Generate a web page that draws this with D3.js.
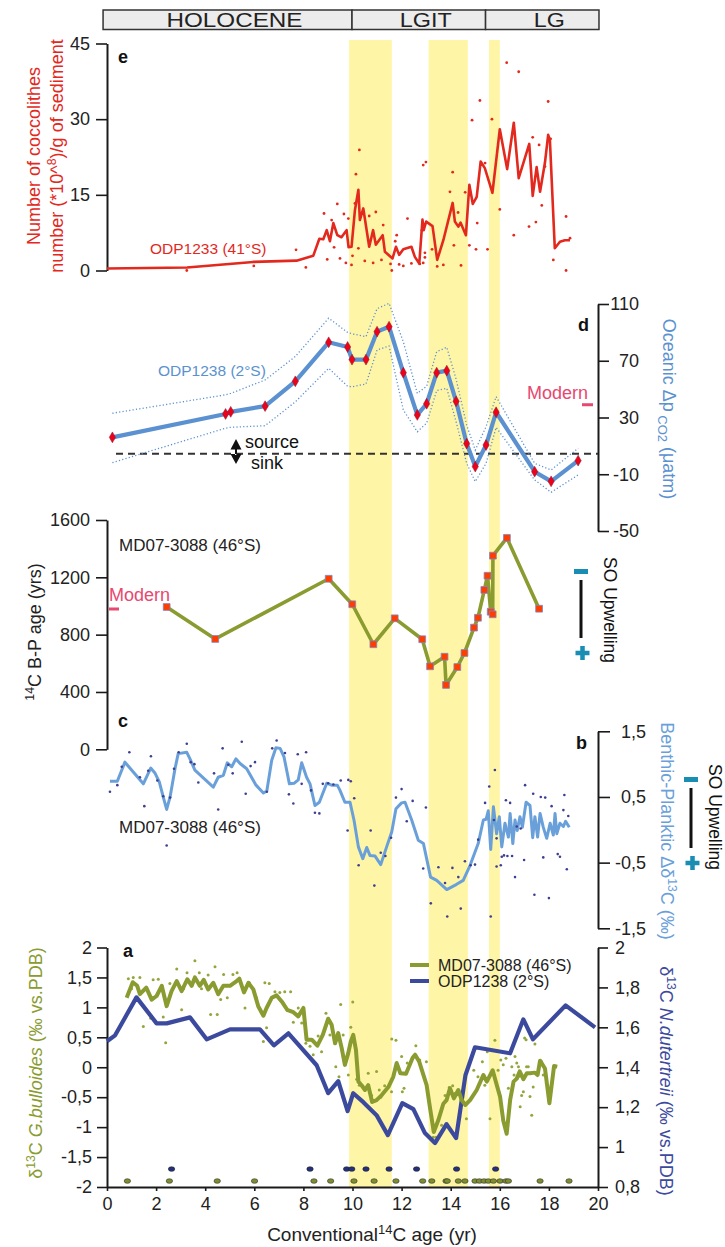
<!DOCTYPE html>
<html>
<head>
<meta charset="utf-8">
<script src="https://cdn.jsdelivr.net/npm/d3@7"></script>
<style>
body{margin:0;background:#fff}
</style>
</head>
<body>
<svg id="fig" width="725" height="1247"></svg>
<script>
//////////////////////
// data (ages in 14C kyr)
//////////////////////
var bands=[[9.86,11.6],[13.1,14.7],[15.56,16.0]];
var periods=[{name:'HOLOCENE',from:-0.16,to:9.98},{name:'LGIT',from:9.98,to:15.42},{name:'LG',from:15.42,to:20.04}];
var ageTicks=[0,2,4,6,8,10,12,14,16,18,20];

// e : coccoliths ODP1233
var eTicks=[0,15,30,45];
var eLine=[[0,0.4],[3.26,0.6],[5.95,1.7],[7.72,1.95],[8.4,2.9],[8.65,6.3],[8.81,6.2],[8.95,8.0],[9.08,5.8],[9.22,9.4],[9.38,7.0],[9.55,6.6],[9.76,8.0],[9.84,4.6],[9.96,4.7],[10.1,12.0],[10.24,16.0],[10.3,10.0],[10.44,12.3],[10.68,4.7],[10.84,8.0],[10.95,5.1],[11.23,7.0],[11.32,3.7],[11.63,2.4],[11.77,4.7],[11.9,3.1],[12.07,4.2],[12.4,4.7],[12.54,2.7],[12.72,1.4],[12.85,10.1],[12.9,8.0],[13.0,9.7],[13.26,8.8],[13.45,2.1],[13.7,6.0],[14.08,13.4],[14.17,9.7],[14.31,8.7],[14.4,9.5],[14.62,7.0],[14.76,17.0],[14.9,13.2],[15.06,14.6],[15.22,21.6],[15.39,20.3],[15.7,15.4],[16.0,28.0],[16.3,20.1],[16.57,29.3],[16.77,18.3],[17.2,25.1],[17.34,14.8],[17.5,20.5],[17.64,15.6],[17.84,21.4],[17.97,26.9],[18.04,25.9],[18.24,4.4],[18.45,5.7],[18.65,6.0],[18.86,6.0]];
var eDots=[[3.25,0],[5.98,0.9],[7.7,4.1],[8.1,0.6],[8.84,11.3],[9.15,10.0],[9.38,13.2],[9.65,11.2],[9.83,10.3],[8.97,2.2],[9.25,4.6],[9.49,2.4],[9.73,1.5],[9.96,1.1],[10.0,2.9],[10.1,13.3],[10.14,19.1],[10.28,23.9],[10.24,4.4],[10.68,10.8],[10.95,11.6],[10.5,1.9],[10.84,1.5],[11.18,2.1],[11.25,9.0],[11.55,1.3],[11.6,0],[11.8,7.0],[11.74,5.8],[11.9,1.2],[12.07,0.9],[12.24,10.3],[12.4,1.4],[12.74,1.3],[12.83,8.0],[12.88,20.9],[12.99,21.5],[12.95,3.5],[12.95,2.6],[12.88,1.5],[13.24,4.2],[13.45,0.8],[13.7,1.1],[13.97,15.6],[14.08,19.5],[14.13,5.0],[14.3,11.5],[14.42,1.0],[14.59,15.5],[14.76,5.0],[14.87,29.8],[15.03,4.2],[15.08,9.4],[15.19,33.7],[15.4,21.3],[15.5,4.2],[15.68,30.0],[16.0,12.1],[16.28,41.2],[16.57,7.0],[16.77,39.4],[17.19,8.7],[17.34,26.4],[17.47,9.6],[17.6,24.9],[17.71,12.9],[17.84,20.6],[17.97,33.5],[18.07,26.1],[18.18,2.1],[18.7,10.7],[18.7,0],[18.86,6.4]];

// d : oceanic dpCO2 ODP1238
var dTicks=[110,70,30,-10,-50];
var dAge  =[0.22,4.83,5.04,6.44,7.67,9.03,9.8,9.98,10.55,11.0,11.49,12.07,12.64,13.02,13.43,13.84,14.22,14.65,15.0,15.44,15.85,17.42,18.09,19.19];
var dVal  =[16,32.5,34,38,55.5,83,79.7,70.8,70.8,90.5,94,61.6,31.8,39.7,61.6,63,41.4,11.6,-4.6,10.6,33.7,-8.2,-15,-0.4];
var dUpper=[33,46,47,56.4,73,100,90,89,87,106.7,110.5,83.4,47,52,76.4,79.5,57,24.7,7,23.5,44.7,-2.3,-7,8.3];
var dLower=[-1.8,22.5,23.1,24.2,41,64.7,52,51.7,53.6,77.6,80.4,35.3,20,26,49,50.6,27,-2.3,-15.2,-2.3,23,-14,-22.7,-10.5];
var dSourceSink=4.5, dModern=39;

// c : B-P age MD07-3088
var cTicks=[0,400,800,1200,1600];
var cLine=[[2.43,993],[4.41,770],[9.03,1190],[9.99,1012],[10.85,733],[11.72,914],[12.84,768],[13.16,579],[13.75,646],[13.81,449],[14.27,574],[14.56,672],[14.95,849],[15.11,918],[15.37,1112],[15.5,1211],[15.63,960],[15.71,942],[15.72,1351],[16.29,1475],[17.6,981]];
var cModern=979;

// b : benthic-planktic d13C MD07-3088
var bTicks=[1.5,0.5,-0.5,-1.5];
var bLine=[[0.12,0.74],[0.42,0.74],[0.73,1.03],[1.48,0.70],[1.78,0.94],[1.96,0.86],[2.13,0.73],[2.29,0.50],[2.43,0.31],[2.57,0.50],[2.77,0.93],[2.90,1.16],[3.25,1.18],[3.38,1.08],[3.58,0.91],[4.33,0.65],[4.53,0.80],[4.74,0.83],[4.90,1.02],[5.08,0.96],[5.25,1.08],[5.42,1.01],[5.69,0.93],[6.07,0.68],[6.37,0.56],[6.51,0.59],[6.71,1.06],[6.88,1.25],[7.05,1.24],[7.21,1.11],[7.43,0.70],[7.63,0.71],[7.79,0.76],[7.93,1.02],[8.13,0.80],[8.27,0.70],[8.47,0.37],[8.65,0.42],[8.95,0.71],[9.15,0.68],[9.38,0.68],[9.49,0.60],[9.69,0.42],[9.90,0.42],[10.06,0.15],[10.24,-0.26],[10.42,-0.44],[10.58,-0.27],[10.71,-0.39],[10.92,-0.40],[11.15,-0.53],[11.39,-0.26],[11.60,-0.03],[11.77,0.32],[12.0,0.41],[12.14,0.42],[12.41,0.15],[12.68,-0.16],[12.89,-0.21],[13.18,-0.72],[13.43,-0.77],[13.84,-0.91],[14.24,-0.83],[14.51,-0.77],[14.79,-0.54],[15.12,-0.21],[15.33,0.15],[15.44,0.16],[15.53,0.29],[15.63,-0.30],[15.74,0.35],[15.87,-0.06],[15.98,0.20],[16.08,-0.26],[16.21,0.10],[16.35,-0.11],[16.42,0.25],[16.53,-0.21],[16.62,0.15],[16.71,-0.01],[16.82,0.20],[16.92,0.04],[17.07,0.42],[17.23,0.37],[17.34,-0.12],[17.43,0.20],[17.54,-0.11],[17.64,0.25],[17.77,0.04],[17.91,-0.13],[18.05,0.10],[18.18,-0.08],[18.25,0.25],[18.32,-0.06],[18.45,0.10],[18.59,0.05],[18.68,0.13],[18.83,0.04]];
var bDots=[[0.12,0.58],[0.42,0.68],[0.60,0.96],[0.91,1.18],[1.34,0.80],[1.52,0.36],[1.68,0.90],[1.79,1.12],[2.05,0.75],[2.29,0.51],[2.57,0.49],[2.43,-0.24],[2.73,0.93],[2.92,1.18],[3.25,1.31],[3.41,1.03],[3.56,1.00],[3.72,0.72],[4.36,0.86],[4.53,0.31],[4.71,1.24],[4.94,0.99],[5.12,0.86],[5.49,1.34],[5.65,0.55],[5.85,0.97],[6.03,1.03],[6.51,0.58],[6.73,1.24],[6.91,1.36],[7.25,1.17],[7.41,0.54],[7.59,0.40],[7.77,1.15],[7.93,0.70],[8.11,1.18],[8.31,0.60],[8.47,0.26],[8.65,0.25],[8.79,0.70],[9.01,0.71],[9.22,0.69],[9.52,0.75],[9.83,0.76],[9.93,0.74],[10.07,0.48],[9.80,-0.01],[10.25,-0.54],[10.74,-0.01],[10.89,-0.85],[11.15,-0.35],[11.34,-0.40],[11.57,-0.12],[11.77,0.49],[12.0,0.62],[12.21,0.13],[12.45,0.44],[12.99,0.34],[12.88,-0.59],[13.19,-1.12],[13.5,-0.57],[13.77,-0.81],[13.86,-1.32],[14.07,-0.58],[14.31,-0.72],[14.41,-1.20],[14.58,-0.48],[14.81,-0.54],[14.99,-0.53],[15.12,-0.15],[15.40,0.41],[15.57,0.66],[15.63,-1.32],[15.76,0.15],[15.80,0.91],[15.87,-0.13],[15.87,-0.56],[16.04,-0.54],[16.08,-0.41],[16.17,-0.39],[16.25,0.45],[16.42,0.41],[16.31,-0.40],[16.50,-0.40],[16.62,-0.72],[16.69,0.05],[16.85,0.02],[16.99,-0.46],[17.03,0.68],[17.36,0.55],[17.41,-0.99],[17.67,0.50],[17.85,0.49],[17.77,-0.42],[18.0,-1.04],[18.11,0.36],[18.36,-0.37],[18.45,-0.41],[18.59,0.30],[18.63,0.53],[18.73,-0.60],[18.79,0.21]];

// a : d13C G.bulloides (MD07-3088, left) and N.dutertreii (ODP1238, right)
var aLeftTicks=[2,1.5,1,0.5,0,-0.5,-1,-1.5,-2];
var aRightTicks=[2,1.8,1.6,1.4,1.2,1,0.8];
var aMD=[[0.8,1.16],[1.05,1.42],[1.23,1.36],[1.34,1.22],[1.6,1.33],[1.82,1.13],[2.02,1.19],[2.23,1.36],[2.43,1.02],[2.63,1.27],[2.84,1.44],[3.04,1.27],[3.27,1.47],[3.45,1.36],[3.58,1.5],[3.78,1.36],[3.94,1.46],[4.12,1.3],[4.33,1.41],[4.53,1.22],[4.74,1.36],[5.01,1.36],[5.28,1.44],[5.39,1.48],[5.58,1.25],[5.76,1.41],[5.96,1.3],[6.16,1.02],[6.37,0.86],[6.5,0.99],[6.71,1.16],[6.91,1.2],[7.15,1.08],[7.34,0.96],[7.59,0.92],[7.79,0.85],[8.0,0.99],[8.13,0.46],[8.34,0.46],[8.57,0.36],[8.79,0.54],[9.01,0.81],[9.15,0.71],[9.29,0.4],[9.42,0.57],[9.56,0.32],[9.69,0.04],[9.83,0.24],[9.93,0.43],[10.03,0.54],[10.14,0.29],[10.24,-0.24],[10.37,-0.3],[10.51,-0.38],[10.64,-0.3],[10.8,-0.58],[10.98,-0.55],[11.2,-0.46],[11.46,-0.33],[11.66,-0.16],[11.8,0.07],[11.95,-0.1],[12.18,-0.11],[12.45,0.16],[12.55,0.21],[12.72,0.09],[13.02,-0.3],[13.15,-0.66],[13.31,-1.08],[13.49,-0.89],[13.7,-0.61],[13.83,-0.55],[13.97,-0.35],[14.13,-0.52],[14.31,-0.38],[14.45,-0.55],[14.6,-0.63],[14.79,-0.55],[15.06,-0.38],[15.33,-0.13],[15.47,-0.24],[15.71,-0.05],[15.85,-0.26],[16.01,-0.49],[16.14,-0.89],[16.28,-1.11],[16.42,-0.55],[16.56,-0.24],[16.69,-0.19],[16.81,-0.07],[16.96,-0.2],[17.1,-0.1],[17.23,-0.1],[17.43,-0.09],[17.54,-0.13],[17.64,0.11],[17.84,-0.02],[18.02,-0.6],[18.21,0.02],[18.34,0.01]];
var aMDDots=[[0.87,1.48],[1.07,1.50],[1.34,1.50],[1.0,1.31],[1.48,0.68],[1.78,0.82],[1.88,1.46],[2.09,1.47],[2.29,0.84],[2.39,0.41],[2.56,1.40],[2.84,1.64],[3.04,0.96],[3.12,1.31],[3.26,1.58],[3.58,1.78],[3.76,1.58],[3.85,1.31],[4.12,1.54],[4.22,0.88],[4.4,1.68],[4.49,0.88],[4.63,1.13],[4.75,1.55],[4.9,1.16],[5.13,1.55],[5.3,1.58],[5.62,0.99],[5.8,1.41],[6.09,1.16],[6.43,1.41],[6.61,1.40],[6.37,0.43],[6.5,0.66],[6.84,1.26],[7.04,1.25],[7.24,1.26],[7.48,1.26],[7.34,0.95],[7.59,0.75],[7.79,0.99],[7.93,0.74],[8.1,0.40],[8.27,0.35],[8.4,0.21],[8.6,0.52],[8.74,0.26],[8.92,0.90],[9.08,0.54],[9.32,0.01],[9.45,-0.16],[9.52,1.05],[9.62,0.54],[9.83,-0.13],[9.93,0.67],[10.01,1.09],[10.17,-0.2],[10.28,-0.3],[10.47,-0.35],[10.64,-0.1],[10.78,-0.47],[10.98,-0.07],[11.09,-0.38],[11.15,-0.5],[11.31,-0.31],[11.59,-0.41],[11.6,0.47],[11.77,0.45],[12.0,0.18],[12.03,-0.41],[12.1,-0.35],[12.23,0.07],[12.58,0.36],[12.74,0.12],[13.01,0.09],[13.15,-0.66],[13.29,-1.17],[13.4,-1.17],[13.63,-0.97],[13.77,-0.47],[13.94,-0.34],[14.08,-0.31],[14.17,-0.44],[14.37,-0.83],[14.64,-0.86],[14.94,-0.05],[15.11,-0.16],[15.29,0.09],[15.39,-0.3],[15.49,0.26],[15.6,-0.86],[15.8,0.45],[15.93,-0.05],[16.04,0.12],[16.14,0.04],[16.25,0.15],[16.35,-0.35],[16.49,0.01],[16.58,-0.13],[16.62,0.18],[16.69,0.07],[16.76,0.01],[16.8,-0.15],[16.83,-0.66],[16.89,-0.47],[16.96,-0.41],[17.01,0.49],[17.07,0.46],[17.09,0.01],[17.16,0.01],[17.23,-0.49],[17.3,-0.8],[17.36,-0.33],[17.43,0.39],[17.7,0.09],[17.77,-0.13],[17.9,-0.27]];
var aODP=[[0,1.53],[0.33,1.56],[1.2,1.75],[2.02,1.62],[2.43,1.62],[3.38,1.65],[4.06,1.54],[5.01,1.59],[6.23,1.59],[6.8,1.51],[7.39,1.57],[8.54,1.41],[9.01,1.27],[9.42,1.33],[9.8,1.18],[10.03,1.27],[10.44,1.225],[10.98,1.16],[11.44,1.06],[12.03,1.22],[12.48,1.19],[12.95,1.07],[13.36,1.02],[13.83,1.115],[14.22,1.045],[14.6,1.36],[14.99,1.5],[16.42,1.47],[16.96,1.64],[17.35,1.54],[18.68,1.71],[19.88,1.60]];
var aODPDates=[2.63,8.27,9.76,9.97,10.55,11.49,12.61,14.24,15.83];
var aMDDates=[0.83,2.54,4.49,6.01,8.43,9.11,10.06,10.88,11.77,12.86,13.23,13.81,13.86,14.31,14.58,14.99,15.17,15.36,15.53,15.74,16.01,16.25,16.35,17.64,18.82];
var aODPDateLevel=-1.7, aMDDateLevel=-1.9;

//////////////////////
// scales
//////////////////////
var FONT='"Liberation Sans", Arial, Helvetica, sans-serif';
var x=d3.scaleLinear().domain([0,20]).range([107,598]);
var yE=d3.scaleLinear().domain([0,45]).range([270.5,43.5]);
var yD=d3.scaleLinear().domain([-50,110]).range([531,304]);
var yC=d3.scaleLinear().domain([0,1600]).range([749.3,520]);
var yB=d3.scaleLinear().domain([-1.5,1.5]).range([928.3,731.3]);
var yAL=d3.scaleLinear().domain([-2,2]).range([1187,947.5]);
var yAR=d3.scaleLinear().domain([0.8,2]).range([1187,947.5]);

var OLIVE='#8a9b30', NAVY='#3c4a9e', LBLUE='#6aa0da', DBLUE='#5b91d0', RED='#e3281d', PINK='#e8476f', TEAL='#1a8db3';

var svg=d3.select('#fig').attr('font-family',FONT);
var comma=function(v){return String(v).replace('.',',');};
var plain=function(v){return String(v);};

// rich text : parts = [{t:'..', sup:1 | sub:1 | it:1}]
function rich(sel,parts){
	parts.forEach(function(p){
		var s=sel.append('tspan').text(p.t);
		if(p.sup) s.attr('baseline-shift','super').attr('font-size','0.68em');
		if(p.sub) s.attr('baseline-shift','-5').attr('font-size','0.72em');
		if(p.it) s.attr('font-style','italic');
	});
	return sel;
}
function vtitle(cx,cy,rot,color,parts,size){
	var t=svg.append('text').attr('transform','translate('+cx+','+cy+') rotate('+rot+')')
	.attr('text-anchor','middle').attr('dy','0.35em').attr('font-size',size||18).attr('fill',color);
	return rich(t,parts);
}
function label(px,py,txt,color,size,weight){
	return svg.append('text').attr('x',px).attr('y',py).text(txt)
	.attr('fill',color).attr('font-size',size).attr('font-weight',weight||'normal');
}
function styleAxis(g){
	g.attr('font-family',FONT).attr('font-size',18);
	g.select('.domain').attr('stroke','#1a1a1a').attr('stroke-width',2);
	g.selectAll('.tick line').attr('stroke','#1a1a1a').attr('stroke-width',1.6);
	g.selectAll('.tick text').attr('fill','#222');
	return g;
}

//////////////////////
// shading + period bar
//////////////////////
svg.append('g').selectAll('rect').data(bands).enter().append('rect')
	.attr('x',function(d){return x(d[0]);}).attr('width',function(d){return x(d[1])-x(d[0]);})
	.attr('y',40).attr('height',1187-40).attr('fill','#fff5a6');

var pb=svg.append('g');
pb.selectAll('rect').data(periods).enter().append('rect')
	.attr('x',function(d){return x(d.from);}).attr('width',function(d){return x(d.to)-x(d.from);})
	.attr('y',10).attr('height',19.5).attr('fill','#ececec').attr('stroke','#333').attr('stroke-width',1.5);
var pWidths={HOLOCENE:136,LGIT:52,LG:31};
pb.selectAll('text').data(periods).enter().append('text')
	.attr('x',function(d){return (x(d.from)+x(d.to))/2+7;}).attr('y',27)
	.attr('text-anchor','middle').attr('font-size',19.5).attr('fill','#222')
	.attr('textLength',function(d){return pWidths[d.name];}).attr('lengthAdjust','spacingAndGlyphs')
	.text(function(d){return d.name;});

//////////////////////
// e
//////////////////////
styleAxis(svg.append('g').attr('transform','translate(107,0)')
	.call(d3.axisLeft(yE).tickValues(eTicks).tickSize(11).tickPadding(6).tickSizeOuter(0).tickFormat(plain)))
	.selectAll('.tick text').attr('x',-17);
svg.append('g').selectAll('circle').data(eDots).enter().append('circle')
	.attr('cx',function(d){return x(d[0]);}).attr('cy',function(d){return yE(d[1]);}).attr('r',1.4).attr('fill',RED);
svg.append('path').datum(eLine).attr('fill','none').attr('stroke',RED).attr('stroke-width',2.6).attr('stroke-linejoin','round')
	.attr('d',d3.line().x(function(d){return x(d[0]);}).y(function(d){return yE(d[1]);}));
label(118,63,'e','#111',18,'bold');
label(150,253.5,'ODP1233 (41°S)',RED,15.5);
vtitle(34,156,-90,RED,[{t:'Number of coccolithes'}]);
vtitle(57,156,-90,RED,[{t:'number (*10^'},{t:'8',sup:1},{t:')/g of sediment'}]);

//////////////////////
// d
//////////////////////
var gd=styleAxis(svg.append('g').attr('transform','translate(598,0)')
	.call(d3.axisRight(yD).tickValues(dTicks).tickSize(11).tickPadding(4).tickSizeOuter(0).tickFormat(plain)));
gd.selectAll('.tick text').attr('text-anchor','end').attr('x',41);
svg.append('line').attr('x1',116).attr('x2',598).attr('y1',yD(dSourceSink)).attr('y2',yD(dSourceSink))
	.attr('stroke','#333').attr('stroke-width',2).attr('stroke-dasharray','7,5');
var envLine=d3.line().x(function(d){return x(d[0]);}).y(function(d){return yD(d[1]);});
[dUpper,dLower].forEach(function(arr){
	svg.append('path').datum(dAge.map(function(a,i){return [a,arr[i]];}))
	.attr('fill','none').attr('stroke',DBLUE).attr('stroke-width',1.3).attr('stroke-dasharray','1.2,2.2')
	.attr('d',envLine);
});
var dPts=dAge.map(function(a,i){return [a,dVal[i]];});
svg.append('path').datum(dPts).attr('fill','none').attr('stroke',DBLUE).attr('stroke-width',4.2).attr('stroke-linejoin','round')
	.attr('d',envLine);
svg.append('g').selectAll('path').data(dPts).enter().append('path')
	.attr('transform',function(d){return 'translate('+x(d[0])+','+yD(d[1])+')';})
	.attr('d',d3.symbol().type(d3.symbolDiamond).size(34)).attr('fill','#f0001a').attr('stroke','#7a2030').attr('stroke-width',0.5);
label(158,375.5,'ODP1238 (2°S)',DBLUE,15.5);
label(578,331,'d','#111',18,'bold');
label(527,399,'Modern',PINK,18);
svg.append('line').attr('x1',582).attr('x2',593).attr('y1',yD(dModern)).attr('y2',yD(dModern)).attr('stroke',PINK).attr('stroke-width',3);
// source / sink arrow
svg.append('path').attr('d','M236,439 L241.5,449.5 L230.5,449.5 Z M236,464 L241.5,454 L230.5,454 Z M235,449 L237,449 L237,455 L235,455 Z').attr('fill','#111');
label(245,448,'source','#111',18);
label(251,469,'sink','#111',18);
vtitle(669,409,90,DBLUE,[{t:'Oceanic Δp'},{t:' CO2',sub:1},{t:' (μatm)'}]);

//////////////////////
// c
//////////////////////
styleAxis(svg.append('g').attr('transform','translate(107,0)')
	.call(d3.axisLeft(yC).tickValues(cTicks).tickSize(11).tickPadding(6).tickSizeOuter(0).tickFormat(plain)))
	.selectAll('.tick text').attr('x',-17);
svg.append('path').datum(cLine).attr('fill','none').attr('stroke',OLIVE).attr('stroke-width',3.6).attr('stroke-linejoin','round')
	.attr('d',d3.line().x(function(d){return x(d[0]);}).y(function(d){return yC(d[1]);}));
svg.append('g').selectAll('path').data(cLine).enter().append('path')
	.attr('transform',function(d){return 'translate('+x(d[0])+','+yC(d[1])+')';})
	.attr('d',d3.symbol().type(d3.symbolSquare).size(46)).attr('fill','#ff3d00').attr('stroke','#7d88c4').attr('stroke-width',0.8);
label(119,551,'MD07-3088 (46°S)','#222',17);
label(109,600.5,'Modern',PINK,18);
svg.append('line').attr('x1',109).attr('x2',119).attr('y1',yC(cModern)).attr('y2',yC(cModern)).attr('stroke',PINK).attr('stroke-width',3);
label(118,727,'c','#111',18,'bold');
vtitle(35,632,-90,'#222',[{t:'14',sup:1},{t:'C B-P age (yrs)'}]);
// SO upwelling indicator
function upwelling(cx,top,bot,tx,ty){
	svg.append('rect').attr('x',cx-7).attr('y',top-11).attr('width',14).attr('height',5).attr('fill',TEAL);
	svg.append('line').attr('x1',cx).attr('x2',cx).attr('y1',top).attr('y2',bot).attr('stroke','#111').attr('stroke-width',3);
	svg.append('path').attr('d','M'+(cx-5.5)+','+(bot+15)+' h14 M'+(cx+1.5)+','+(bot+8)+' v14')
		.attr('stroke',TEAL).attr('stroke-width',4.5);
	vtitle(tx,ty,90,'#111',[{t:'SO Upwelling'}],17.5);
}
upwelling(581,580,638,610,610);

//////////////////////
// b
//////////////////////
var gb=styleAxis(svg.append('g').attr('transform','translate(598,0)')
	.call(d3.axisRight(yB).tickValues(bTicks).tickSize(12).tickPadding(4).tickSizeOuter(0).tickFormat(comma)));
gb.selectAll('.tick text').attr('text-anchor','end').attr('x',48);
svg.append('path').datum(bLine).attr('fill','none').attr('stroke',LBLUE).attr('stroke-width',3).attr('stroke-linejoin','round')
	.attr('d',d3.line().x(function(d){return x(d[0]);}).y(function(d){return yB(d[1]);}));
svg.append('g').selectAll('circle').data(bDots).enter().append('circle')
	.attr('cx',function(d){return x(d[0]);}).attr('cy',function(d){return yB(d[1]);}).attr('r',1.3).attr('fill','#3d3f92');
label(119,833,'MD07-3088 (46°S)','#222',17);
label(576,749,'b','#111',18,'bold');
vtitle(667,831,90,LBLUE,[{t:'Benthic-Planktic Δδ'},{t:'13',sup:1},{t:'C (‰)'}]);
upwelling(691,788,848,715,817);

//////////////////////
// a
//////////////////////
styleAxis(svg.append('g').attr('transform','translate(107,0)')
	.call(d3.axisLeft(yAL).tickValues(aLeftTicks).tickSize(10).tickPadding(6).tickSizeOuter(0).tickFormat(comma)))
	.selectAll('.tick text').attr('x',-15);
var gar=styleAxis(svg.append('g').attr('transform','translate(598,0)')
	.call(d3.axisRight(yAR).tickValues(aRightTicks).tickSize(10).tickPadding(6).tickSizeOuter(0).tickFormat(comma)));
gar.selectAll('.tick text').attr('x',17);
styleAxis(svg.append('g').attr('transform','translate(0,1187)')
	.call(d3.axisBottom(x).tickValues(ageTicks).tickSize(4).tickPadding(6).tickSizeOuter(0).tickFormat(plain)));

svg.append('g').selectAll('circle').data(aMDDots).enter().append('circle')
	.attr('cx',function(d){return x(d[0]);}).attr('cy',function(d){return yAL(d[1]);}).attr('r',1.5).attr('fill','#93a63c');
svg.append('path').datum(aODP).attr('fill','none').attr('stroke',NAVY).attr('stroke-width',4.2).attr('stroke-linejoin','round')
	.attr('d',d3.line().x(function(d){return x(d[0]);}).y(function(d){return yAR(d[1]);}));
svg.append('path').datum(aMD).attr('fill','none').attr('stroke',OLIVE).attr('stroke-width',4).attr('stroke-linejoin','round')
	.attr('d',d3.line().x(function(d){return x(d[0]);}).y(function(d){return yAL(d[1]);}));
svg.append('g').selectAll('ellipse').data(aODPDates).enter().append('ellipse')
	.attr('cx',function(d){return x(d);}).attr('cy',yAL(aODPDateLevel)).attr('rx',3.2).attr('ry',2.3)
	.attr('fill','#23307f').attr('stroke','#222').attr('stroke-width',0.6);
svg.append('g').selectAll('ellipse').data(aMDDates).enter().append('ellipse')
	.attr('cx',function(d){return x(d);}).attr('cy',yAL(aMDDateLevel)).attr('rx',3.2).attr('ry',2.3)
	.attr('fill','#7d8f2c').attr('stroke','#333').attr('stroke-width',0.6);

// legend
svg.append('line').attr('x1',410).attr('x2',429).attr('y1',965).attr('y2',965).attr('stroke',OLIVE).attr('stroke-width',4);
svg.append('line').attr('x1',410).attr('x2',429).attr('y1',981).attr('y2',981).attr('stroke',NAVY).attr('stroke-width',4);
label(438,970.5,'MD07-3088 (46°S)','#222',16);
label(438,987,'ODP1238 (2°S)','#222',16);
label(123,957,'a','#111',18,'bold');

vtitle(36,1063,-90,OLIVE,[{t:'δ'},{t:'13',sup:1},{t:'C '},{t:'G.bulloides',it:1},{t:' (‰ vs.PDB)'}]);
vtitle(666,1081,90,NAVY,[{t:'δ'},{t:'13',sup:1},{t:'C '},{t:'N.dutertreii',it:1},{t:' (‰ vs.PDB)'}]);
var xt=svg.append('text').attr('x',372).attr('y',1241).attr('text-anchor','middle').attr('font-size',19).attr('fill','#222');
rich(xt,[{t:'Conventional'},{t:'14',sup:1},{t:'C age (yr)'}]);
</script>
</body>
</html>
